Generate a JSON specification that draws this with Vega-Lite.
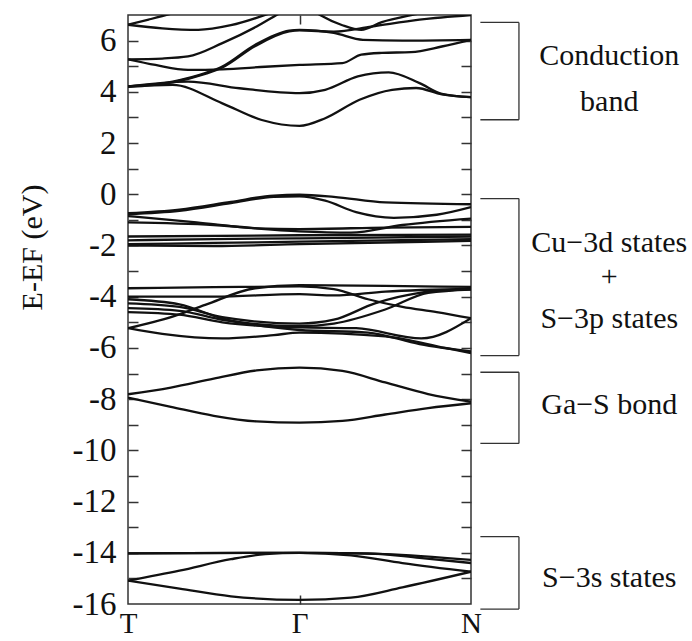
{
  "$schema": "https://vega.github.io/schema/vega-lite/v6.json",
  "padding": {"left": 16, "top": 13, "right": 0, "bottom": 0},
  "background": "white",
  "spacing": 0,
  "bounds": "flush",
  "config": {"view": {"stroke": null}, "font": "Liberation Serif"},
  "datasets": {
    "cond": [
      {"b":"C1","x":0,"e":4.21},{"b":"C1","x":0.26,"e":4.27},{"b":"C1","x":0.55,"e":3.55},{"b":"C1","x":0.78,"e":2.9},{"b":"C1","x":1,"e":2.67},{"b":"C1","x":1.15,"e":2.97},{"b":"C1","x":1.35,"e":3.69},{"b":"C1","x":1.54,"e":4.08},{"b":"C1","x":1.68,"e":4.15},{"b":"C1","x":1.83,"e":3.9},{"b":"C1","x":2,"e":3.79},
      {"b":"C2","x":0,"e":4.21},{"b":"C2","x":0.35,"e":4.4},{"b":"C2","x":0.65,"e":4.14},{"b":"C2","x":1,"e":3.95},{"b":"C2","x":1.15,"e":4.08},{"b":"C2","x":1.34,"e":4.6},{"b":"C2","x":1.52,"e":4.76},{"b":"C2","x":1.7,"e":4.34},{"b":"C2","x":1.83,"e":3.92},{"b":"C2","x":2,"e":3.79},
      {"b":"C3","x":0,"e":4.21},{"b":"C3","x":0.26,"e":4.4},{"b":"C3","x":0.45,"e":4.73},{"b":"C3","x":0.55,"e":4.99},{"b":"C3","x":0.74,"e":5.83},{"b":"C3","x":0.94,"e":6.39},{"b":"C3","x":1,"e":6.42},{"b":"C3","x":1.2,"e":6.3},{"b":"C3","x":1.37,"e":6.03},{"b":"C3","x":1.6,"e":6.0},{"b":"C3","x":2,"e":6.03},
      {"b":"C9","x":0,"e":4.19},{"b":"C9","x":0.26,"e":4.37},{"b":"C9","x":0.45,"e":4.7},{"b":"C9","x":0.55,"e":4.95},{"b":"C9","x":0.74,"e":5.78},{"b":"C9","x":0.94,"e":6.36},{"b":"C9","x":1,"e":6.4},{"b":"C9","x":1.2,"e":6.35},{"b":"C9","x":1.42,"e":6.55},{"b":"C9","x":1.7,"e":6.82},{"b":"C9","x":2,"e":7.0},
      {"b":"C4","x":0,"e":5.27},{"b":"C4","x":0.16,"e":5.05},{"b":"C4","x":0.35,"e":4.86},{"b":"C4","x":0.55,"e":4.88},{"b":"C4","x":0.8,"e":4.98},{"b":"C4","x":1,"e":5.05},{"b":"C4","x":1.25,"e":5.12},{"b":"C4","x":1.36,"e":5.45},{"b":"C4","x":1.48,"e":5.52},{"b":"C4","x":1.65,"e":5.55},{"b":"C4","x":1.83,"e":5.77},{"b":"C4","x":2,"e":6.03},
      {"b":"C5","x":0,"e":5.27},{"b":"C5","x":0.2,"e":5.3},{"b":"C5","x":0.35,"e":5.38},{"b":"C5","x":0.55,"e":5.9},{"b":"C5","x":0.75,"e":6.55},{"b":"C5","x":0.88,"e":7.05},{"b":"C5","x":0.95,"e":7.3},
      {"b":"C6","x":0,"e":6.62},{"b":"C6","x":0.12,"e":6.82},{"b":"C6","x":0.25,"e":7.05},{"b":"C6","x":0.35,"e":7.25},
      {"b":"C7","x":0,"e":6.62},{"b":"C7","x":0.2,"e":6.48},{"b":"C7","x":0.41,"e":6.42},{"b":"C7","x":0.6,"e":6.6},{"b":"C7","x":0.82,"e":7.05},{"b":"C7","x":0.92,"e":7.3},
      {"b":"C8","x":1.05,"e":7.3},{"b":"C8","x":1.12,"e":7.0},{"b":"C8","x":1.25,"e":6.6},{"b":"C8","x":1.36,"e":6.42},{"b":"C8","x":1.48,"e":6.72},{"b":"C8","x":1.67,"e":7.02},{"b":"C8","x":1.8,"e":7.2}
    ],
    "val": [
      {"b":"V1","x":0,"e":-0.74},{"b":"V1","x":0.3,"e":-0.6},{"b":"V1","x":0.6,"e":-0.3},{"b":"V1","x":0.85,"e":-0.05},{"b":"V1","x":1,"e":-0.02},{"b":"V1","x":1.2,"e":-0.1},{"b":"V1","x":1.5,"e":-0.32},{"b":"V1","x":2,"e":-0.39},
      {"b":"V2","x":0,"e":-0.78},{"b":"V2","x":0.3,"e":-0.65},{"b":"V2","x":0.6,"e":-0.35},{"b":"V2","x":0.85,"e":-0.1},{"b":"V2","x":1,"e":-0.08},{"b":"V2","x":1.15,"e":-0.25},{"b":"V2","x":1.33,"e":-0.7},{"b":"V2","x":1.55,"e":-0.92},{"b":"V2","x":1.8,"e":-0.8},{"b":"V2","x":2,"e":-0.5},
      {"b":"V3","x":0,"e":-0.85},{"b":"V3","x":0.4,"e":-1.1},{"b":"V3","x":0.75,"e":-1.33},{"b":"V3","x":1,"e":-1.36},{"b":"V3","x":1.5,"e":-1.3},{"b":"V3","x":2,"e":-1.27},
      {"b":"V4","x":0,"e":-1.1},{"b":"V4","x":0.5,"e":-1.2},{"b":"V4","x":1,"e":-1.45},{"b":"V4","x":1.3,"e":-1.5},{"b":"V4","x":1.6,"e":-1.2},{"b":"V4","x":2,"e":-0.95},
      {"b":"V5","x":0,"e":-1.65},{"b":"V5","x":1,"e":-1.6},{"b":"V5","x":2,"e":-1.58},
      {"b":"V6","x":0,"e":-1.8},{"b":"V6","x":0.5,"e":-1.75},{"b":"V6","x":1,"e":-1.72},{"b":"V6","x":2,"e":-1.65},
      {"b":"V7","x":0,"e":-1.95},{"b":"V7","x":0.5,"e":-1.9},{"b":"V7","x":1,"e":-1.85},{"b":"V7","x":2,"e":-1.75},
      {"b":"V8","x":0,"e":-2.0},{"b":"V8","x":0.5,"e":-2.02},{"b":"V8","x":1,"e":-1.95},{"b":"V8","x":2,"e":-1.82},
      {"b":"B1","x":0,"e":-3.67},{"b":"B1","x":0.5,"e":-3.63},{"b":"B1","x":1,"e":-3.6},{"b":"B1","x":1.2,"e":-3.7},{"b":"B1","x":1.4,"e":-4.1},{"b":"B1","x":1.6,"e":-4.4},{"b":"B1","x":1.8,"e":-4.6},{"b":"B1","x":2,"e":-4.84},
      {"b":"B2","x":0,"e":-5.23},{"b":"B2","x":0.26,"e":-4.78},{"b":"B2","x":0.45,"e":-4.32},{"b":"B2","x":0.74,"e":-3.67},{"b":"B2","x":1,"e":-3.55},{"b":"B2","x":1.5,"e":-3.58},{"b":"B2","x":2,"e":-3.62},
      {"b":"B3","x":0,"e":-4.0},{"b":"B3","x":0.5,"e":-4.0},{"b":"B3","x":1,"e":-3.9},{"b":"B3","x":1.2,"e":-3.95},{"b":"B3","x":1.5,"e":-3.8},{"b":"B3","x":2,"e":-3.7},
      {"b":"B4","x":0,"e":-4.26},{"b":"B4","x":0.3,"e":-4.4},{"b":"B4","x":0.55,"e":-4.8},{"b":"B4","x":1,"e":-5.05},{"b":"B4","x":1.2,"e":-4.9},{"b":"B4","x":1.44,"e":-4.26},{"b":"B4","x":1.7,"e":-3.85},{"b":"B4","x":2,"e":-3.7},
      {"b":"B5","x":0,"e":-4.45},{"b":"B5","x":0.3,"e":-4.55},{"b":"B5","x":0.55,"e":-4.9},{"b":"B5","x":1,"e":-5.15},{"b":"B5","x":1.2,"e":-5.05},{"b":"B5","x":1.5,"e":-4.5},{"b":"B5","x":1.75,"e":-3.85},{"b":"B5","x":2,"e":-3.72},
      {"b":"B6","x":0,"e":-4.6},{"b":"B6","x":0.3,"e":-4.7},{"b":"B6","x":0.55,"e":-5.0},{"b":"B6","x":1,"e":-5.2},{"b":"B6","x":1.33,"e":-5.23},{"b":"B6","x":1.71,"e":-5.63},{"b":"B6","x":2,"e":-4.84},
      {"b":"B7","x":0,"e":-4.1},{"b":"B7","x":0.3,"e":-4.3},{"b":"B7","x":0.55,"e":-4.85},{"b":"B7","x":1,"e":-5.3},{"b":"B7","x":1.4,"e":-5.4},{"b":"B7","x":1.7,"e":-5.85},{"b":"B7","x":2,"e":-6.14},
      {"b":"B8","x":0,"e":-5.23},{"b":"B8","x":0.2,"e":-5.45},{"b":"B8","x":0.55,"e":-5.63},{"b":"B8","x":0.85,"e":-5.5},{"b":"B8","x":1,"e":-5.4},{"b":"B8","x":1.5,"e":-5.55},{"b":"B8","x":1.85,"e":-6.0},{"b":"B8","x":2,"e":-6.2}
    ],
    "low": [
      {"b":"G1","x":0,"e":-7.81},{"b":"G1","x":0.25,"e":-7.55},{"b":"G1","x":0.5,"e":-7.2},{"b":"G1","x":0.75,"e":-6.88},{"b":"G1","x":1,"e":-6.77},{"b":"G1","x":1.25,"e":-6.9},{"b":"G1","x":1.5,"e":-7.35},{"b":"G1","x":1.75,"e":-7.8},{"b":"G1","x":2,"e":-8.1},
      {"b":"G2","x":0,"e":-7.94},{"b":"G2","x":0.25,"e":-8.3},{"b":"G2","x":0.5,"e":-8.65},{"b":"G2","x":0.75,"e":-8.87},{"b":"G2","x":1,"e":-8.92},{"b":"G2","x":1.25,"e":-8.85},{"b":"G2","x":1.5,"e":-8.6},{"b":"G2","x":1.75,"e":-8.35},{"b":"G2","x":2,"e":-8.16},
      {"b":"S1","x":0,"e":-14.02},{"b":"S1","x":1,"e":-14.0},{"b":"S1","x":1.5,"e":-14.05},{"b":"S1","x":2,"e":-14.28},
      {"b":"S2","x":0,"e":-14.02},{"b":"S2","x":1,"e":-14.0},{"b":"S2","x":1.4,"e":-14.02},{"b":"S2","x":1.7,"e":-14.2},{"b":"S2","x":2,"e":-14.4},
      {"b":"S3","x":0,"e":-15.09},{"b":"S3","x":0.3,"e":-14.7},{"b":"S3","x":0.6,"e":-14.25},{"b":"S3","x":0.8,"e":-14.05},{"b":"S3","x":1,"e":-14.0},{"b":"S3","x":1.3,"e":-14.1},{"b":"S3","x":1.6,"e":-14.4},{"b":"S3","x":2,"e":-14.74},
      {"b":"S4","x":0,"e":-15.09},{"b":"S4","x":0.3,"e":-15.4},{"b":"S4","x":0.6,"e":-15.7},{"b":"S4","x":1,"e":-15.84},{"b":"S4","x":1.3,"e":-15.75},{"b":"S4","x":1.6,"e":-15.35},{"b":"S4","x":2,"e":-14.74}
    ],
    "brackets": [
      {"g":"Conduction band","top":6.71,"bot":2.91},
      {"g":"Cu-3d + S-3p","top":-0.17,"bot":-6.3},
      {"g":"Ga-S bond","top":-6.95,"bot":-9.73},
      {"g":"S-3s states","top":-13.37,"bot":-16.2}
    ],
    "labels": [
      {"t":"Conduction","y":5.38},
      {"t":"band","y":3.62},
      {"t":"Cu−3d states","y":-1.92},
      {"t":"+","y":-3.22},
      {"t":"S−3p states","y":-4.86},
      {"t":"Ga−S bond","y":-8.21},
      {"t":"S−3s states","y":-14.97}
    ]
  },
  "hconcat": [
    {
      "width": 343,
      "height": 589,
      "view": {"stroke": "#333", "strokeWidth": 1.5},
      "resolve": {"axis": {"x": "independent", "y": "independent"}},
      "layer": [
        {
          "data": {"name": "cond"},
          "mark": {"type": "line", "interpolate": "monotone", "color": "#111", "strokeWidth": 2.3, "clip": true},
          "encoding": {
            "x": {"field": "x", "type": "quantitative", "scale": {"domain": [0, 2]},
              "axis": {"values": [0, 1, 2], "labelExpr": "datum.value == 0 ? 'T' : (datum.value == 1 ? 'Γ' : 'N')", "ticks": false, "domain": false, "grid": false, "title": null, "labelFont": "Liberation Serif", "labelFontSize": 29, "labelColor": "#111", "labelPadding": 5, "labelFlush": false}},
            "y": {"field": "e", "type": "quantitative", "scale": {"domain": [-16, 7], "nice": false},
              "axis": {"values": [-16, -14, -12, -10, -8, -6, -4, -2, 0, 2, 4, 6], "labelExpr": "'' + datum.value", "ticks": false, "domain": false, "grid": false, "labelFont": "Liberation Serif", "labelFontSize": 33, "labelColor": "#111", "labelPadding": 12, "labelFlush": false,
                "title": "E-EF (eV)", "titleFont": "Liberation Serif", "titleFontSize": 30, "titleFontWeight": "normal", "titleColor": "#111", "titleX": -96, "titleY": 232, "titleAngle": -90, "titleBaseline": "middle", "titleAlign": "center"}},
            "detail": {"field": "b"}
          }
        },
        {
          "data": {"name": "val"},
          "mark": {"type": "line", "interpolate": "monotone", "color": "#111", "strokeWidth": 2.3, "clip": true},
          "encoding": {
            "x": {"field": "x", "type": "quantitative",
              "axis": {"orient": "top", "offset": -589, "values": [1], "labels": false, "ticks": true, "tickSize": 9, "tickColor": "#333", "tickWidth": 1.5, "domain": false, "grid": false, "title": null}},
            "y": {"field": "e", "type": "quantitative",
              "axis": {"orient": "right", "offset": -343, "values": [-15, -14, -13, -12, -11, -10, -9, -8, -7, -6, -5, -4, -3, -2, -1, 0, 1, 2, 3, 4, 5, 6], "labels": false, "ticks": true, "tickSize": 10, "tickColor": "#333", "tickWidth": 1.5, "domain": false, "grid": false, "title": null}},
            "detail": {"field": "b"}
          }
        },
        {
          "data": {"name": "low"},
          "mark": {"type": "line", "interpolate": "monotone", "color": "#111", "strokeWidth": 2.3, "clip": true},
          "encoding": {
            "x": {"field": "x", "type": "quantitative",
              "axis": {"orient": "bottom", "offset": -589, "values": [1], "labels": false, "ticks": true, "tickSize": 9, "tickColor": "#333", "tickWidth": 1.5, "domain": false, "grid": false, "title": null}},
            "y": {"field": "e", "type": "quantitative",
              "axis": {"orient": "left", "offset": -343, "values": [-15, -14, -13, -12, -11, -10, -9, -8, -7, -6, -5, -4, -3, -2, -1, 0, 1, 2, 3, 4, 5, 6], "labels": false, "ticks": true, "tickSize": 10, "tickColor": "#333", "tickWidth": 1.5, "domain": false, "grid": false, "title": null}},
            "detail": {"field": "b"}
          }
        }
      ]
    },
    {
      "width": 223,
      "height": 589,
      "layer": [
        {
          "data": {"name": "brackets"},
          "mark": {"type": "rule", "color": "#333", "strokeWidth": 1.3},
          "encoding": {
            "x": {"datum": 0.215, "type": "quantitative", "scale": {"domain": [0, 1]}, "axis": null},
            "y": {"field": "top", "type": "quantitative", "scale": {"domain": [-16, 7], "nice": false}, "axis": null},
            "y2": {"field": "bot"}
          }
        },
        {
          "data": {"name": "brackets"},
          "mark": {"type": "rule", "color": "#333", "strokeWidth": 1.3},
          "encoding": {
            "x": {"datum": 0.042, "type": "quantitative"},
            "x2": {"datum": 0.215},
            "y": {"field": "top", "type": "quantitative"}
          }
        },
        {
          "data": {"name": "brackets"},
          "mark": {"type": "rule", "color": "#333", "strokeWidth": 1.3},
          "encoding": {
            "x": {"datum": 0.042, "type": "quantitative"},
            "x2": {"datum": 0.215},
            "y": {"field": "bot", "type": "quantitative"}
          }
        },
        {
          "data": {"name": "labels"},
          "mark": {"type": "text", "font": "Liberation Serif", "fontSize": 30, "color": "#111", "align": "center", "baseline": "middle"},
          "encoding": {
            "x": {"datum": 0.62, "type": "quantitative"},
            "y": {"field": "y", "type": "quantitative"},
            "text": {"field": "t"}
          }
        }
      ]
    }
  ]
}
